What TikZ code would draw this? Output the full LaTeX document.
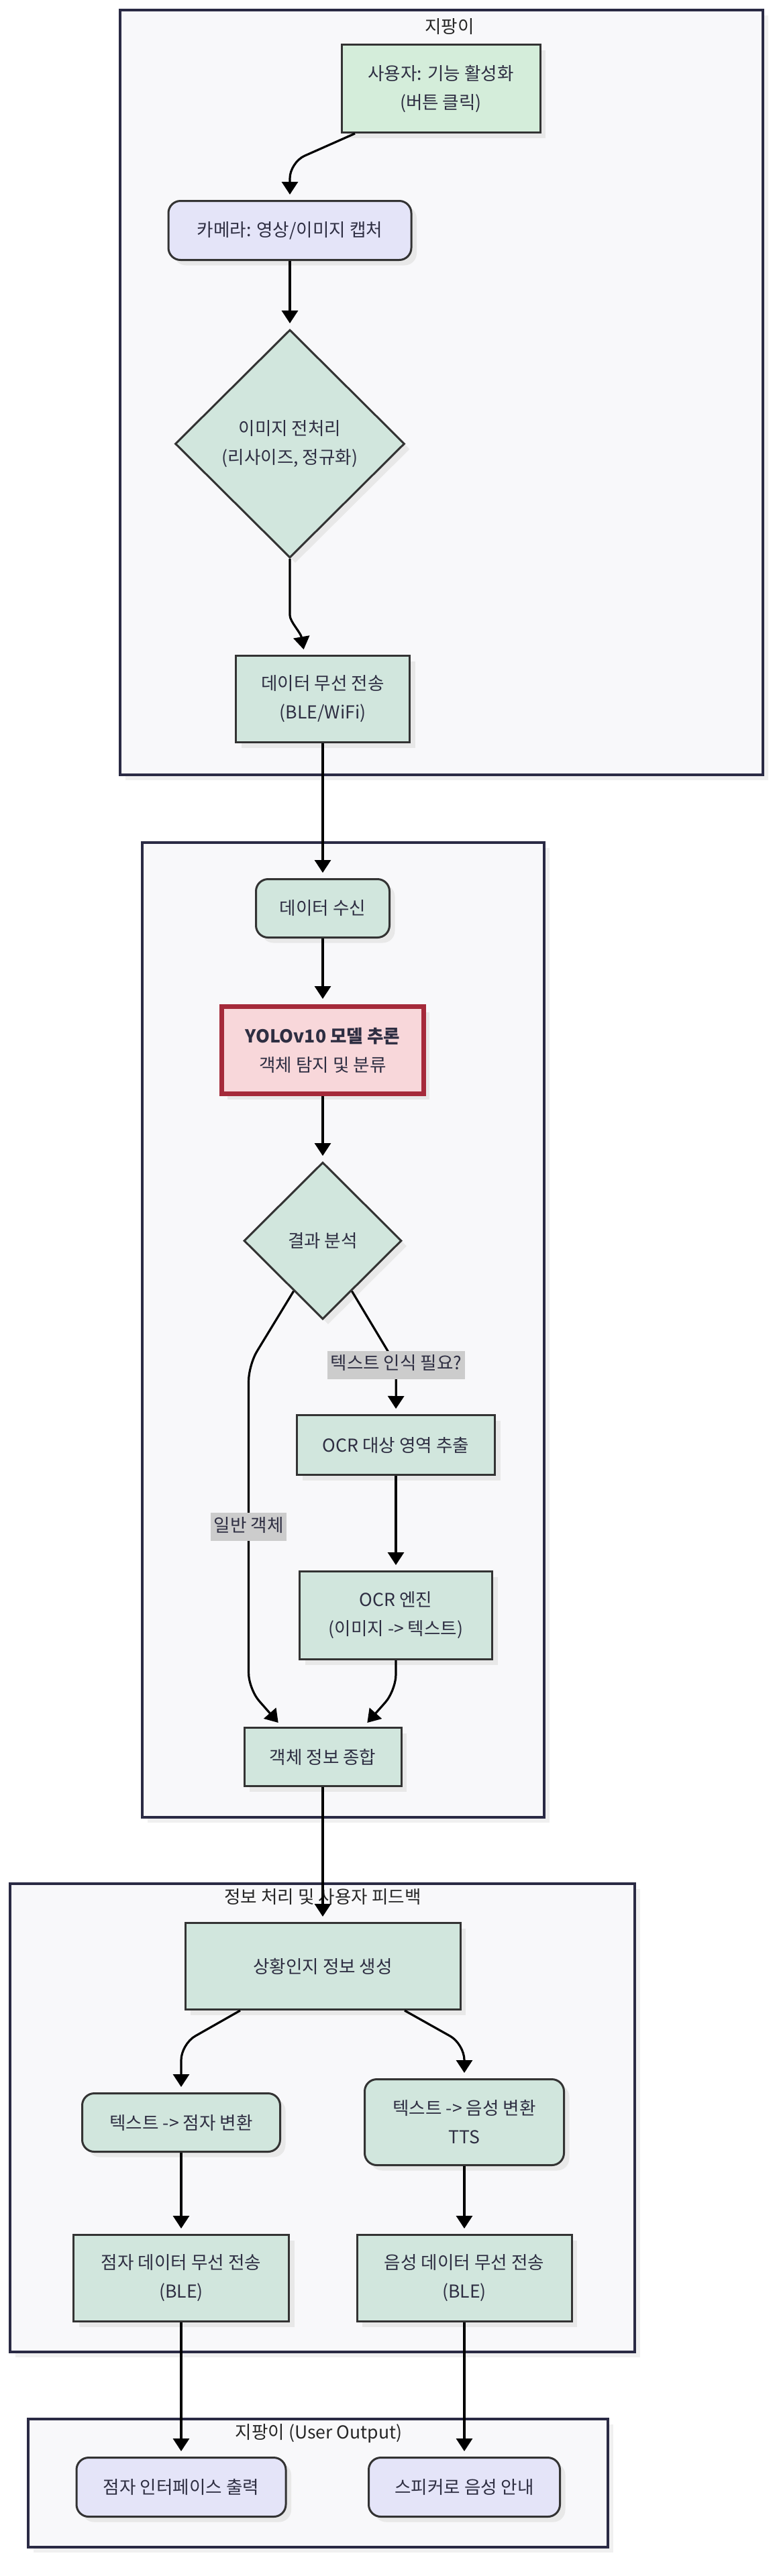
\documentclass[tikz,border=0pt]{standalone}
\usepackage{fontspec}
\setmainfont{Noto Sans CJK KR}
\usepackage{xcolor}
\usetikzlibrary{arrows.meta,positioning,shapes.geometric,shadows}
\definecolor{groupfill}{HTML}{F8F8FA}
\definecolor{groupline}{HTML}{2A2A44}
\definecolor{nodeline}{HTML}{333333}
\definecolor{textc}{HTML}{2E2E42}
\definecolor{procfill}{HTML}{D1E6DD}
\definecolor{startfill}{HTML}{D4EDDA}
\definecolor{iofill}{HTML}{E4E4F8}
\definecolor{modelfill}{HTML}{F8D7DA}
\definecolor{modelline}{HTML}{A52A3A}
\definecolor{labelfill}{HTML}{CCCCCC}
\tikzset{%
  % classes
  box/.style={draw=nodeline, line width=1.5pt, text=textc, align=center, inner sep=4pt,
    font=\fontsize{13.3pt}{21.5pt}\selectfont,
    drop shadow={shadow xshift=4pt, shadow yshift=-4pt, fill=black!9, opacity=1}},
  proc/.style={box, fill=procfill},
  startbox/.style={box, fill=startfill},
  term/.style={box, fill=procfill, rounded corners=9pt},
  io/.style={box, fill=iofill, rounded corners=9pt},
  dec/.style={box, fill=procfill, diamond, inner sep=0pt},
  model/.style={box, fill=modelfill, draw=modelline, line width=3.5pt},
  % groups
  group/.style={draw=groupline, line width=2pt, fill=groupfill,
    drop shadow={shadow xshift=4pt, shadow yshift=-4pt, fill=black!6, opacity=1}},
  grouptitle/.style={text=black!85, font=\fontsize{13.3pt}{16pt}\selectfont},
  % edge styles
  rel/.style={-{Triangle[length=9.5pt, width=12pt]}, line width=1.6pt, rounded corners=12pt, shorten >=4pt},
  elabel/.style={sharp corners, fill=labelfill, text=textc, inner xsep=2.5pt, inner ysep=4pt,
    text height=10pt, text depth=3pt, font=\fontsize{13.3pt}{16pt}\selectfont},
}

\begin{document}
\begin{tikzpicture}
  \path[use as bounding box, fill=white] (0,0) rectangle (580.5pt,-1920pt);

  % Groups
  \draw[group] (89.5pt,-7.5pt) rectangle (568.5pt,-577.5pt);
  \node[grouptitle] (t_cane) at (335pt,-20pt) {지팡이};
  \draw[group] (106pt,-628pt) rectangle (405.5pt,-1354.5pt);
  \draw[group] (7.5pt,-1404pt) rectangle (473pt,-1753pt);
  \node[grouptitle] (t_feed) at (240.5pt,-1414pt) {정보 처리 및 사용자 피드백};
  \draw[group] (21pt,-1803pt) rectangle (453pt,-1898.5pt);
  \node[grouptitle] (t_out) at (237.5pt,-1813.5pt) {지팡이 (User Output)};

  % Cane side
  \node[startbox, minimum width=148pt, minimum height=65.5pt] (user) at (328.5pt,-66pt) {사용자: 기능 활성화\\(버튼 클릭)};
  \node[io, minimum width=181pt, minimum height=44pt, below=49.5pt of user, xshift=-112.5pt] (cam) {카메라: 영상/이미지 캡처};
  \node[dec, minimum width=171pt, minimum height=170pt, below=50.5pt of cam] (prep) {이미지 전처리\\(리사이즈, 정규화)};
  \node[proc, minimum width=129.5pt, minimum height=64.5pt, below=71.5pt of prep, xshift=24.5pt] (tx) {데이터 무선 전송\\(BLE/WiFi)};

  % Server side
  \node[term, minimum width=99.5pt, minimum height=43.5pt, below=100.5pt of tx] (rx) {데이터 수신};
  \node[model, minimum width=150.5pt, minimum height=65pt, below=49pt of rx] (yolo) {{\bfseries YOLOv10 모델 추론}\\객체 탐지 및 분류};
  \node[dec, minimum width=117.5pt, minimum height=117pt, below=48.5pt of yolo] (ana) {결과 분석};
  \node[proc, minimum width=147.5pt, minimum height=44.5pt, below=70pt of ana, xshift=54.5pt] (ocrx) {OCR 대상 영역 추출};
  \node[proc, minimum width=143.5pt, minimum height=65.5pt, below=70.5pt of ocrx] (ocre) {OCR 엔진\\(이미지 -> 텍스트)};
  \node[proc, minimum width=117pt, minimum height=43.5pt, below=49.5pt of ocre, xshift=-54.5pt] (merge) {객체 정보 종합};

  % Feedback
  \node[proc, minimum width=205pt, minimum height=64.5pt, below=100.5pt of merge] (ctx) {상황인지 정보 생성};
  \node[term, minimum width=147.5pt, minimum height=43.5pt, below=61pt of ctx, xshift=-105.5pt] (bconv) {텍스트 -> 점자 변환};
  \node[term, minimum width=148.5pt, minimum height=64pt, below=50.5pt of ctx, xshift=105.5pt] (tts) {텍스트 -> 음성 변환\\TTS};
  \node[proc, minimum width=160.5pt, minimum height=64.5pt, below=60.5pt of bconv] (btx) {점자 데이터 무선 전송\\(BLE)};
  \node[proc, minimum width=160pt, minimum height=64.5pt, below=50.5pt of tts] (vtx) {음성 데이터 무선 전송\\(BLE)};

  % User output
  \node[io, minimum width=156pt, minimum height=44pt, below=100pt of btx] (bout) {점자 인터페이스 출력};
  \node[io, minimum width=142.5pt, minimum height=44pt, below=100pt of vtx] (spk) {스피커로 음성 안내};

  % Flow
  \draw[rel] ([xshift=-64pt]user.south) -- ++(-48.5pt,-21.5pt) -- (cam.north);
  \draw[rel] (cam) -- (prep);
  \draw[rel] (prep.south) -- ++(0,-30pt) to[out=-90, in=100] ([xshift=-13.5pt]tx.north);
  \draw[rel] (tx) -- (rx);
  \draw[rel] (rx) -- (yolo);
  \draw[rel] (yolo) -- (ana);
  \draw[rel] (ana.240) -- ++(-33.5pt,-55pt) -- node[elabel] {일반 객체} ++(0,-241.5pt) -- ([xshift=-30.5pt]merge.north);
  \draw[rel] (ana.300) -- ++(33pt,-55pt) node[elabel] {텍스트 인식 필요?} -- (ocrx.north);
  \draw[rel] (ocrx) -- (ocre);
  \draw[rel] (ocre.south) -- ++(0,-22.5pt) -- ([xshift=30.5pt]merge.north);
  \draw[rel] (merge) -- (ctx);
  \draw[rel] ([xshift=-61.5pt]ctx.south) -- ++(-44pt,-25pt) -- (bconv.north);
  \draw[rel] ([xshift=61pt]ctx.south) -- ++(44.5pt,-25pt) -- (tts.north);
  \draw[rel] (bconv) -- (btx);
  \draw[rel] (tts) -- (vtx);
  \draw[rel] (btx) -- (bout);
  \draw[rel] (vtx) -- (spk);
\end{tikzpicture}
\end{document}
